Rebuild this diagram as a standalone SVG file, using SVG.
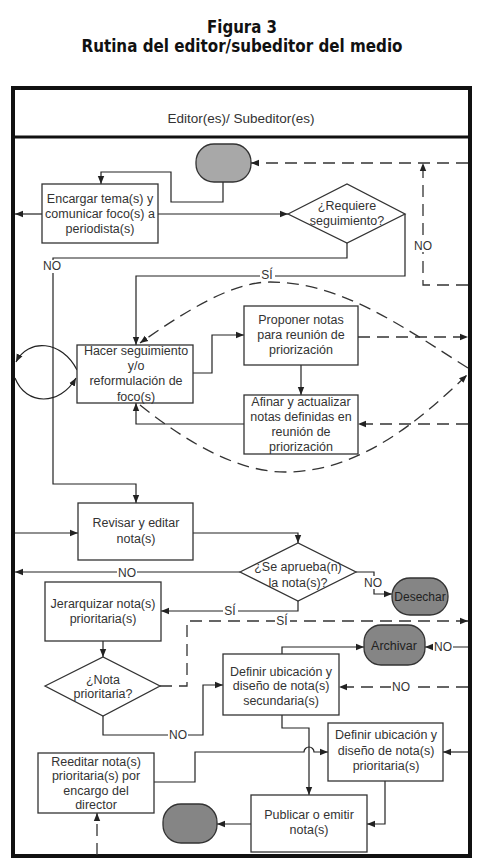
<svg xmlns="http://www.w3.org/2000/svg" width="482" height="865" viewBox="0 0 482 865">
<style>
.box{fill:#fff;stroke:#333;stroke-width:1.3}
.term{stroke:#333;stroke-width:1.3}
.t{font-family:"Liberation Sans",Arial,sans-serif;font-size:12.5px;fill:#333;text-anchor:middle}
.lbl{font-family:"Liberation Sans",Arial,sans-serif;font-size:12px;fill:#333;text-anchor:middle}
.ttl{font-family:"DejaVu Sans Condensed","DejaVu Sans",sans-serif;font-weight:bold;font-size:18.5px;fill:#111;text-anchor:middle}
.c{fill:none;stroke:#222;stroke-width:1.2}
.d{fill:none;stroke:#333;stroke-width:1.3;stroke-dasharray:12 7}
.bg{fill:#fff}
</style>
<defs>
<marker id="ah" viewBox="0 0 10 10" refX="10" refY="5" markerWidth="8" markerHeight="8" orient="auto" markerUnits="userSpaceOnUse"><path d="M0,1 L10,5 L0,9 z" fill="#222"/></marker>
</defs>
<rect width="482" height="865" fill="#fff"/>
<text class="ttl" x="242" y="33" textLength="70" lengthAdjust="spacingAndGlyphs">Figura 3</text>
<text class="ttl" x="242" y="52" textLength="321" lengthAdjust="spacingAndGlyphs">Rutina del editor/subeditor del medio</text>
<g id="frame">
<rect x="13" y="88" width="457" height="768" fill="none" stroke="#111" stroke-width="4"/>
<line x1="13" y1="137" x2="470" y2="137" stroke="#111" stroke-width="3"/>
<text class="t" x="241" y="123" style="font-size:13.5px">Editor(es)/ Subeditor(es)</text>
</g>
<g id="connectors">
<path class="c" d="M223 182 V202 H171 V172 H101 V184" marker-end="url(#ah)"/>
<path class="c" d="M42 214 H15" marker-end="url(#ah)"/>
<path class="c" d="M158 214 H288" marker-end="url(#ah)"/>
<path class="c" d="M347 243 V258 H53 V484 H136 V503" marker-end="url(#ah)"/>
<path class="c" d="M405 214 V276 H136 V345" marker-end="url(#ah)"/>
<path class="d" d="M468 163 H251" marker-end="url(#ah)"/>
<path class="d" d="M468 285 H423 V163" marker-end="url(#ah)"/>
<path class="d" d="M468 368 C400 325 340 282 270 282 C230 282 180 315 140 343" marker-end="url(#ah)"/>
<path class="d" d="M140 405 C190 445 240 472 285 472 C360 472 420 420 467 375" marker-end="url(#ah)"/>
<path class="c" d="M77 370 C62 340 28 338 16 362" marker-end="url(#ah)"/>
<path class="c" d="M15 378 C26 406 60 406 76 378" marker-end="url(#ah)"/>
<path class="c" d="M193 373 H212 V335 H244" marker-end="url(#ah)"/>
<path class="d" d="M358 337 H468" marker-end="url(#ah)"/>
<path class="c" d="M301 365 V395" marker-end="url(#ah)"/>
<path class="d" d="M468 424 H358" marker-end="url(#ah)"/>
<path class="c" d="M244 424 H136 V403" marker-end="url(#ah)"/>
<path class="c" d="M15 533 H78" marker-end="url(#ah)"/>
<path class="c" d="M193 533 H298 V543" marker-end="url(#ah)"/>
<path class="c" d="M240 572 H15" marker-end="url(#ah)"/>
<path class="c" d="M356 572 H374 V594 H392" marker-end="url(#ah)"/>
<path class="c" d="M298 601 V611 H161" marker-end="url(#ah)"/>
<path class="d" d="M160 686 H187 V621 H468" marker-end="url(#ah)"/>
<path class="c" d="M103 641 V657" marker-end="url(#ah)"/>
<path class="c" d="M103 716 V735 H203 V685 H223" marker-end="url(#ah)"/>
<path class="c" d="M282 654 V647 H364" marker-end="url(#ah)"/>
<path class="c" d="M468 647 H425" marker-end="url(#ah)"/>
<path class="d" d="M468 687 H339" marker-end="url(#ah)"/>
<path class="c" d="M282 715 V728 H309 V795" marker-end="url(#ah)"/>
<path class="c" d="M468 752 H443" marker-end="url(#ah)"/>
<path class="c" d="M154 782 H195 V752 H304 A5 5 0 0 1 314 752 H328" marker-end="url(#ah)"/>
<path class="c" d="M385 781 V824 H367" marker-end="url(#ah)"/>
<path class="c" d="M251 824 H217" marker-end="url(#ah)"/>
<path class="d" d="M97 855 V813" marker-end="url(#ah)"/>
<rect class="bg" x="43" y="260" width="19" height="13"/><text class="lbl" x="52" y="270">NO</text>
<rect class="bg" x="260" y="268" width="15" height="12"/><text class="lbl" x="267" y="279">SÍ</text>
<rect class="bg" x="413" y="238" width="20" height="14"/><text class="lbl" x="423" y="250">NO</text>
<rect class="bg" x="117" y="566" width="20" height="13"/><text class="lbl" x="127" y="577">NO</text>
<rect class="bg" x="364" y="576" width="19" height="13"/><text class="lbl" x="373" y="587">NO</text>
<rect class="bg" x="223" y="605" width="15" height="12"/><text class="lbl" x="230" y="615">SÍ</text>
<rect class="bg" x="275" y="615" width="15" height="12"/><text class="lbl" x="282" y="625">SÍ</text>
<rect class="bg" x="168" y="729" width="20" height="12"/><text class="lbl" x="178" y="739">NO</text>
<rect class="bg" x="433" y="641" width="20" height="12"/><text class="lbl" x="443" y="651">NO</text>
<rect class="bg" x="391" y="681" width="20" height="12"/><text class="lbl" x="401" y="691">NO</text>
</g>
<g id="start"><rect class="term" x="196" y="144" width="55" height="38" rx="18" fill="#a8a8a8"/></g>
<g id="encargar"><rect class="box" x="42" y="184" width="116" height="59"/>
<text class="t" x="100" y="203">Encargar tema(s) y</text><text class="t" x="100" y="218">comunicar foco(s) a</text><text class="t" x="100" y="233">periodista(s)</text></g>
<g id="requiere"><polygon class="box" points="288,214 347,184 405,214 347,243"/>
<text class="t" x="347" y="210">¿Requiere</text><text class="t" x="347" y="225">seguimiento?</text></g>
<g id="hacer"><rect class="box" x="77" y="345" width="116" height="58"/>
<text class="t" x="136" y="355">Hacer seguimiento</text><text class="t" x="136" y="370">y/o</text><text class="t" x="136" y="385">reformulación de</text><text class="t" x="136" y="401">foco(s)</text></g>
<g id="proponer"><rect class="box" x="244" y="306" width="114" height="59"/>
<text class="t" x="301" y="324">Proponer notas</text><text class="t" x="301" y="339">para reunión de</text><text class="t" x="301" y="354">priorización</text></g>
<g id="afinar"><rect class="box" x="244" y="395" width="114" height="59"/>
<text class="t" x="301" y="406">Afinar y actualizar</text><text class="t" x="301" y="421">notas definidas en</text><text class="t" x="301" y="436">reunión de</text><text class="t" x="301" y="451">priorización</text></g>
<g id="revisar"><rect class="box" x="78" y="503" width="115" height="57"/>
<text class="t" x="136" y="527">Revisar y editar</text><text class="t" x="136" y="543">nota(s)</text></g>
<g id="aprueba"><polygon class="box" points="240,572 298,543 356,572 298,601"/>
<text class="t" x="298" y="571">¿Se aprueba(n)</text><text class="t" x="298" y="587">la nota(s)?</text></g>
<g id="desechar"><rect class="term" x="392" y="578" width="56" height="37" rx="18" fill="#858585"/>
<text class="t" x="420" y="601" style="fill:#222;font-size:12px">Desechar</text></g>
<g id="jerarquizar"><rect class="box" x="45" y="582" width="116" height="59"/>
<text class="t" x="103" y="608">Jerarquizar nota(s)</text><text class="t" x="103" y="623">prioritaria(s)</text></g>
<g id="nota"><polygon class="box" points="45,686 103,657 160,686 103,716"/>
<text class="t" x="103" y="684">¿Nota</text><text class="t" x="103" y="698">prioritaria?</text></g>
<g id="defsec"><rect class="box" x="223" y="654" width="116" height="61"/>
<text class="t" x="281" y="676">Definir ubicación y</text><text class="t" x="281" y="690">diseño de nota(s)</text><text class="t" x="281" y="705">secundaria(s)</text></g>
<g id="archivar"><rect class="term" x="364" y="625" width="61" height="40" rx="17" fill="#858585"/>
<text class="t" x="394" y="650" style="fill:#222">Archivar</text></g>
<g id="defprio"><rect class="box" x="328" y="723" width="115" height="58"/>
<text class="t" x="386" y="739">Definir ubicación y</text><text class="t" x="386" y="755">diseño de nota(s)</text><text class="t" x="386" y="770">prioritaria(s)</text></g>
<g id="reeditar"><rect class="box" x="38" y="753" width="116" height="60"/>
<text class="t" x="96" y="766">Reeditar nota(s)</text><text class="t" x="96" y="780">prioritaria(s) por</text><text class="t" x="96" y="795">encargo del</text><text class="t" x="96" y="809">director</text></g>
<g id="publicar"><rect class="box" x="251" y="795" width="116" height="57"/>
<text class="t" x="309" y="819">Publicar o emitir</text><text class="t" x="309" y="834">nota(s)</text></g>
<g id="end"><rect class="term" x="163" y="804" width="54" height="39" rx="18" fill="#858585"/></g>
</svg>
